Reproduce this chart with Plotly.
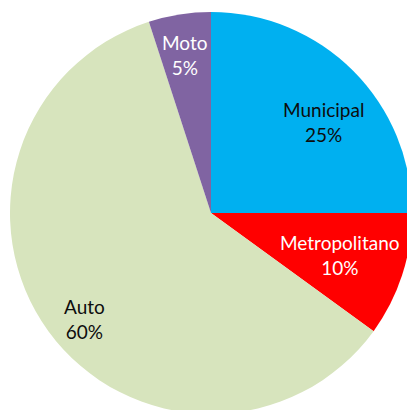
import plotly.graph_objects as go

categories = ["Municipal", "Metropolitano", "Auto", "Moto"]
values = [25, 10, 60, 5]
colors = ["#00B0F0", "#FF0000", "#D7E4BD", "#8064A2"]
text_colors = ["#0d0d0d", "#ffffff", "#0d0d0d", "#ffffff"]

W, H = 412, 414
# label anchor positions (pixels from top-left of figure)
label_px = [323, 340, 84, 185]
label_py = [122.5, 255.5, 318.5, 54.5]

fig = go.Figure(go.Pie(
    labels=categories,
    values=values,
    sort=False,
    direction="clockwise",
    rotation=0,
    marker=dict(colors=colors, line=dict(width=0)),
    textinfo="none",
    showlegend=False,
    hoverinfo="label+percent",
    domain=dict(x=[10 / W, 1], y=[0, 1 - 12 / H]),
))

total = sum(values)
for cat, v, c, px, py in zip(categories, values, text_colors, label_px, label_py):
    fig.add_annotation(
        x=px / W, y=1 - py / H, xref="paper", yref="paper",
        text=f"{cat}<br>{round(100 * v / total)}%",
        showarrow=False,
        font=dict(family="Lato", size=19, color=c),
        xanchor="center", yanchor="middle",
    )

fig.update_layout(
    width=W, height=H,
    margin=dict(l=0, t=0, r=0, b=0),
    paper_bgcolor="white",
)
fig.write_html(
    "out.html",
    config={"displayModeBar": False},
    post_script=(
        "document.body.style.margin='0';"
        "document.body.style.overflow='hidden';"
        "document.documentElement.style.overflow='hidden';"
    ),
)
